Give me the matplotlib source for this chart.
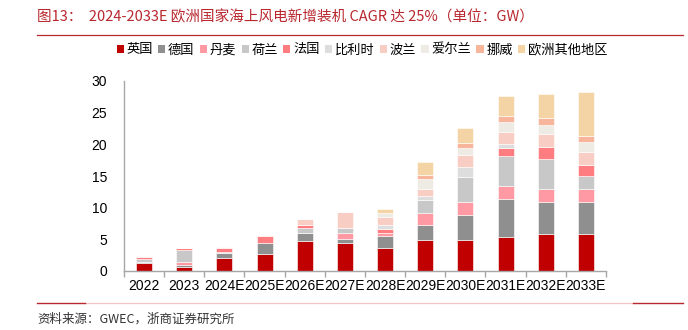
import numpy as np
import matplotlib
matplotlib.use('Agg')
from matplotlib import pyplot as plt
from matplotlib.lines import Line2D
from matplotlib.patches import Patch

plt.rcParams['font.family'] = ['Liberation Sans', 'Noto Sans CJK SC', 'DejaVu Sans']

years = ['2022', '2023', '2024E', '2025E', '2026E', '2027E',
         '2028E', '2029E', '2030E', '2031E', '2032E', '2033E']

# 新增装机 (GW)
uk = [1.2, 0.7, 2.1, 2.75, 4.8, 4.5, 3.7, 4.9, 4.9, 5.4, 5.9, 5.9]
de = [0.3, 0.2, 0.8, 1.75, 1.25, 0.6, 1.9, 2.3, 4.0, 6.0, 5.05, 5.05]
dk = [0.0, 0.45, 0.0, 0.0, 0.0, 0.95, 0.35, 2.0, 2.05, 2.0, 2.0, 2.0]
nl = [0.4, 1.95, 0.15, 0.0, 0.75, 0.75, 0.0, 2.0, 3.95, 4.8, 4.75, 2.05]
fr = [0.35, 0.3, 0.65, 1.05, 0.5, 0.0, 0.65, 0.0, 0.0, 1.2, 1.9, 1.8]
be = [0.0, 0.0, 0.0, 0.0, 0.0, 0.0, 0.6, 0.7, 1.5, 0.7, 0.0, 0.0]
pl = [0.1, 0.1, 0.1, 0.1, 0.95, 2.5, 1.4, 1.05, 1.9, 1.9, 2.0, 2.0]
ie = [0.0, 0.0, 0.0, 0.0, 0.0, 0.0, 0.55, 1.5, 1.1, 1.6, 1.5, 1.5]
no = [0.0, 0.0, 0.0, 0.0, 0.0, 0.0, 0.0, 0.7, 0.8, 0.9, 1.0, 1.0]
other = [0.0, 0.0, 0.0, 0.0, 0.0, 0.0, 0.65, 2.0, 2.4, 3.2, 3.9, 6.9]

names = ['英国', '德国', '丹麦', '荷兰', '法国', '比利时', '波兰', '爱尔兰', '挪威', '欧洲其他地区']
series = [uk, de, dk, nl, fr, be, pl, ie, no, other]
colors = ['#C00000', '#8F8F8F', '#FF99A3', '#C8C8C8', '#FF7C80',
          '#DDDDDD', '#F8CDC4', '#EEEAE4', '#F7B69C', '#F4D4A4']

fig = plt.figure(figsize=(6.88, 3.30), dpi=100)
ax = fig.add_axes([124 / 688, 1 - 271 / 330, 482 / 688, 190 / 330])

x = np.arange(len(years))
bottom = np.zeros(len(years))
for vals, c in zip(series, colors):
    vals = np.array(vals)
    ax.bar(x, vals, 0.4, bottom=bottom, color=c, edgecolor='#FFFFFF', linewidth=0.4)
    bottom += vals

ax.set_xlim(-0.5, len(years) - 0.5)
ax.set_ylim(0, 30)
ax.set_yticks(range(0, 31, 5))
ax.set_xticks(x)
ax.set_xticklabels(years, fontsize=10)
ax.tick_params(axis='x', which='major', length=0, pad=6)
ax.set_xticks(np.arange(-0.5, len(years), 1), minor=True)
ax.tick_params(axis='x', which='minor', length=4, color='#A6A6A6', width=1)
ax.tick_params(axis='y', length=0, labelsize=10, pad=12)
for s in ['top', 'right']:
    ax.spines[s].set_visible(False)
for s in ['left', 'bottom']:
    ax.spines[s].set_color('#A6A6A6')
    ax.spines[s].set_linewidth(1)

handles = [Patch(facecolor=c, edgecolor='none') for c in colors]
fig.legend(handles, names, loc='center', bbox_to_anchor=(362 / 688, 1 - 50 / 330),
           ncol=10, frameon=False, handlelength=0.55, handleheight=0.55,
           handletextpad=0.2, columnspacing=0.4, prop={'family': 'Noto Sans CJK SC', 'size': 9.5})

red = '#B8282E'
fig.text(37 / 688, 1 - 17 / 330, '图13：  2024-2033E 欧洲国家海上风电新增装机 CAGR 达 25%（单位：GW）',
         color=red, fontsize=10.5, va='center', ha='left', family=['Noto Sans CJK SC'])
fig.add_artist(Line2D([37 / 688, 683 / 688], [1 - 35 / 330] * 2, color=red, lw=0.9))

y_b = 1 - 303 / 330
fig.add_artist(Line2D([85 / 688, 633 / 688], [y_b] * 2, color='#F2C4C6', lw=0.9))
fig.add_artist(Line2D([37 / 688, 85 / 688], [y_b] * 2, color=red, lw=1.0))
fig.add_artist(Line2D([633 / 688, 683 / 688], [y_b] * 2, color=red, lw=1.0))
fig.text(37 / 688, 1 - 319 / 330, '资料来源：GWEC，浙商证券研究所', fontsize=9,
         va='center', ha='left', color='#333333', family=['Noto Sans CJK SC'])

fig.savefig('out.png', dpi=100)
